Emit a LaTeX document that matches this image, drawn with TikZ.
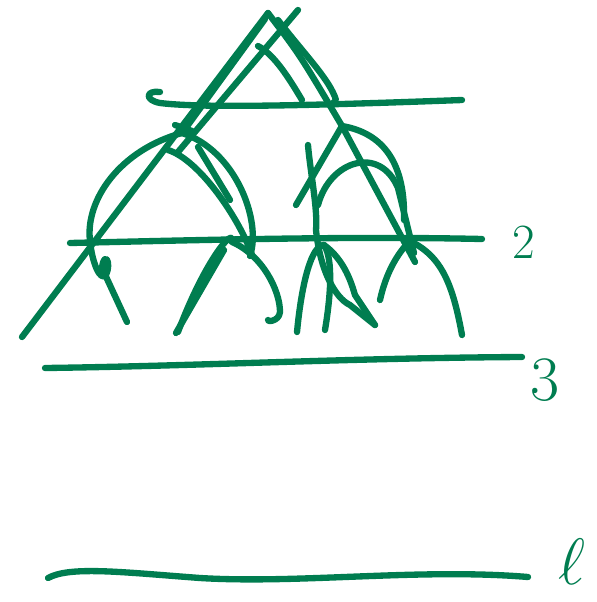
\documentclass[tikz,border=0pt]{standalone}
\usetikzlibrary{arrows.meta, positioning}
\definecolor{inkgreen}{RGB}{0,125,80}

\begin{document}
\begin{tikzpicture}[x=0.02cm, y=-0.02cm,
        ink/.style={draw=inkgreen, line width=3.6pt, line cap=round, line join=round},
        lvl/.style={text=inkgreen, inner sep=0pt}]

        \useasboundingbox (0,0) rectangle (597,602);

        \coordinate (root) at (268,13);
        \coordinate (L) at (182,133);
        \coordinate (R) at (342,126);
        \coordinate (LL) at (90,241);
        \coordinate (LR) at (232,242);
        \coordinate (RL) at (324,245);
        \coordinate (RR) at (408,240);

        \coordinate (l1) at (22,337);
        \coordinate (l2) at (127,322);
        \coordinate (l3) at (178,332);
        \coordinate (l4) at (268,320);
        \coordinate (l5) at (297,332);
        \coordinate (l6) at (375,325);
        \coordinate (l7) at (380,300);
        \coordinate (l8) at (462,335);

        \draw[ink] (root) -- (l1);
        \draw[ink] ([shift={(-3,6)}]root) -- ([shift={(6,-8)}]L);
        \draw[ink] (298,10) -- (178,152);
        \draw[ink] (root) .. controls (300,55) .. (R) -- (415,262);
        \draw[ink] (278,20) .. controls (305,55) and (330,80) .. (336,100) -- (332,104);
        \draw[ink] (258,46) .. controls (275,55) and (290,80) .. (302,100);

        \draw[ink] (160,92) .. controls (146,90) and (144,100) .. (160,103)
            .. controls (200,108) and (300,106) .. (462,100);

        \draw[ink] (175,125) -- (192,131);
        \draw[ink] (L) .. controls (120,150) and (85,200) .. (LL)
            .. controls (92,262) and (100,282) .. (106,275)
            .. controls (112,262) and (104,250) .. (102,268) -- (l2);
        \draw[ink] (168,150) .. controls (200,160) and (240,220) .. (252,255);
        \draw[ink] (L) .. controls (235,150) and (262,220) .. (250,256);
        \draw[ink] (198,147) -- (230,200);

        \draw[ink] (l3) .. controls (205,260) and (235,225) .. (LR)
            .. controls (262,255) and (280,290) .. (280,312)
            .. controls (279,322) and (266,322) .. (l4);
        \draw[ink] (176,333) -- (224,250);

        \draw[ink] (296,205) -- (R) .. controls (395,135) and (405,180) .. (404,220);
        \draw[ink] (308,145) .. controls (310,170) and (318,210) .. (316,230)
            .. controls (320,270) and (335,298) .. (350,305) -- (l6);
        \draw[ink] (l5) .. controls (302,280) and (312,245) .. (RL)
            .. controls (334,260) and (330,300) .. (325,330);
        \draw[ink] (RL) .. controls (345,260) and (352,285) .. (355,295) -- (l6);
        \draw[ink] (318,205) .. controls (330,160) and (380,145) .. (398,188) -- (414,253);
        \draw[ink] (l7) .. controls (392,245) and (425,232) .. (RR)
            .. controls (440,255) and (452,280) .. (l8);

        \draw[ink] (70,243) .. controls (200,240) and (350,236) .. (482,239);
        \draw[ink] (45,368) .. controls (200,366) and (350,358) .. (522,357);
        \draw[ink] (48,578) .. controls (70,566) and (120,572) .. (200,578)
            .. controls (300,584) and (420,568) .. (528,577);

        \node[lvl, font=\fontsize{28}{28}\selectfont] (n2) at (524,242) {2};
        \node[lvl, font=\fontsize{36}{36}\selectfont] (n3) at (545,380) {3};
        \node[lvl, font=\Huge, scale=1.5] (nl) at (572,562) {$\ell$};

    \end{tikzpicture}
\end{document}
